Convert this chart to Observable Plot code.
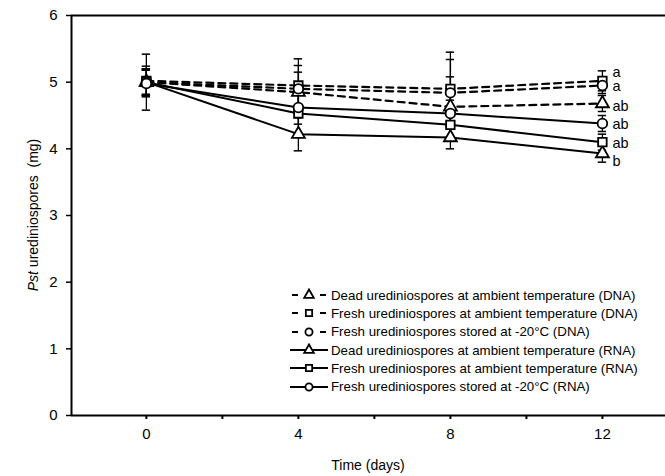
<!DOCTYPE html>
<html><head><meta charset="utf-8">
<script src="https://cdn.jsdelivr.net/npm/d3@7"></script>
<script src="https://cdn.jsdelivr.net/npm/@observablehq/plot@0.6"></script>
<style>
body{margin:0;background:#fff;font-family:"Liberation Sans",Arial,sans-serif;}
#wrap{position:relative;width:665px;height:476px;}
#legend{position:absolute;left:290px;top:286px;font-size:13.3px;color:#000;}
.row{display:flex;align-items:center;height:18.3px;white-space:nowrap;}
.row svg{margin-right:1px;}
</style></head><body><div id="wrap"><div id="legend"></div></div>
<script>
// ---- data ----
const days = [0, 4, 8, 12];
const seriesNames = [
  "Dead urediniospores at ambient temperature (DNA)",
  "Fresh urediniospores at ambient temperature (DNA)",
  "Fresh urediniospores stored at -20°C (DNA)",
  "Dead urediniospores at ambient temperature (RNA)",
  "Fresh urediniospores at ambient temperature (RNA)",
  "Fresh urediniospores stored at -20°C (RNA)"
];
const seriesKind = ["DNA", "DNA", "DNA", "RNA", "RNA", "RNA"];
const seriesSymbol = ["triangle", "square", "circle", "triangle", "square", "circle"];
const deadDNA      = [5.00, 4.85, 4.63, 4.68];
const freshAmbDNA  = [5.02, 4.95, 4.90, 5.02];
const frozenDNA    = [5.00, 4.90, 4.84, 4.95];
const deadRNA      = [5.00, 4.22, 4.17, 3.93];
const freshAmbRNA  = [5.00, 4.53, 4.36, 4.10];
const frozenRNA    = [4.98, 4.62, 4.53, 4.38];
const errDeadDNA     = [0.20, 0.30, 0.45, 0.12];
const errFreshAmbDNA = [0.22, 0.40, 0.55, 0.15];
const errFrozenDNA   = [0.18, 0.35, 0.50, 0.12];
const errDeadRNA     = [0.42, 0.25, 0.17, 0.13];
const errFreshAmbRNA = [0.20, 0.30, 0.20, 0.12];
const errFrozenRNA   = [0.20, 0.25, 0.20, 0.12];
const letters   = ["a", "a", "ab", "ab", "ab", "b"];
const letterY   = [5.15, 4.93, 4.63, 4.37, 4.08, 3.81];
const xTicks = [0, 2, 4, 6, 8, 10, 12];
const xTickLabels = ["0", "", "4", "", "8", "", "12"];
const yTicks = [0, 1, 2, 3, 4, 5, 6];
const xDomain = [-1.97, 13.66];
const yDomain = [0, 6];

const allMeans = [deadDNA, freshAmbDNA, frozenDNA, deadRNA, freshAmbRNA, frozenRNA];
const allErrs = [errDeadDNA, errFreshAmbDNA, errFrozenDNA, errDeadRNA, errFreshAmbRNA, errFrozenRNA];
const rows = [];
allMeans.forEach((arr, s) => arr.forEach((v, i) => rows.push({
  s, name: seriesNames[s], kind: seriesKind[s], symbol: seriesSymbol[s],
  t: days[i], y: v, lo: v - allErrs[s][i], hi: v + allErrs[s][i]
})));
const letterRows = letters.map((l, i) => ({l, y: letterY[i], t: days[days.length - 1]}));

const font = '"Liberation Sans", Arial, sans-serif';
const chart = Plot.plot({
  width: 665, height: 476,
  marginLeft: 71, marginRight: 0, marginTop: 15, marginBottom: 61,
  style: {fontFamily: font, color: "#000", background: "#fff"},
  x: {domain: xDomain, label: null},
  y: {domain: yDomain, label: null},
  symbol: {domain: ["triangle", "square", "circle"], range: ["triangle", "square", "circle"]},
  marks: [
    Plot.axisX({ticks: xTicks, tickSize: 4, tickPadding: 9, fontSize: 15, strokeWidth: 2,
      tickFormat: (d) => xTickLabels[xTicks.indexOf(d)] ?? "", label: null}),
    Plot.axisY({ticks: yTicks, tickSize: 5, tickPadding: 9, fontSize: 15, strokeWidth: 1.5,
      tickFormat: d3.format("d"), label: null}),
    Plot.ruleY([yDomain[0]], {stroke: "#000", strokeWidth: 2}),
    Plot.ruleY([yDomain[1]], {stroke: "#000", strokeWidth: 2}),
    Plot.ruleX([xDomain[0]], {stroke: "#000", strokeWidth: 2}),
    Plot.ruleX(rows, {x: "t", y1: "lo", y2: "hi", stroke: "#000", strokeWidth: 1.3}),
    Plot.ruleY(rows, {y: "lo", x1: d => d.t - 0.11, x2: d => d.t + 0.11, stroke: "#000", strokeWidth: 1.5}),
    Plot.ruleY(rows, {y: "hi", x1: d => d.t - 0.11, x2: d => d.t + 0.11, stroke: "#000", strokeWidth: 1.5}),
    Plot.line(rows.filter(d => d.kind === "DNA"), {x: "t", y: "y", z: "s", stroke: "#000", strokeWidth: 2.2, strokeDasharray: "7,5"}),
    Plot.line(rows.filter(d => d.kind === "RNA"), {x: "t", y: "y", z: "s", stroke: "#000", strokeWidth: 2}),
    Plot.dot(rows, {x: "t", y: "y", symbol: "symbol", r: 4.8, fill: "#fff", stroke: "#000", strokeWidth: 1.8}),
    Plot.text(letterRows, {x: "t", y: "y", text: "l", dx: 10, textAnchor: "start", fontSize: 14.5, fill: "#000"})
  ]
});
document.getElementById("wrap").prepend(chart);
const svg = d3.select(chart);
svg.style("position", "absolute").style("left", "0").style("top", "0");
// axis titles
const yt = svg.append("text").attr("transform", "translate(38,215) rotate(-90)")
  .attr("text-anchor", "middle").attr("font-family", font).attr("font-size", 14).attr("fill", "#000");
yt.append("tspan").attr("font-style", "italic").text("Pst");
yt.append("tspan").text(" urediniospores  (mg)");
svg.append("text").attr("x", 368).attr("y", 470).attr("text-anchor", "middle")
  .attr("font-family", font).attr("font-size", 14).attr("fill", "#000").text("Time (days)");

// legend
const leg = d3.select("#legend");
seriesNames.forEach((n, s) => {
  const row = leg.append("div").attr("class", "row");
  const sv = row.append("svg").attr("width", 40).attr("height", 14);
  if (seriesKind[s] === "DNA") {
    sv.append("line").attr("x1", 2).attr("x2", 8).attr("y1", 7).attr("y2", 7).attr("stroke", "#000").attr("stroke-width", 2);
    sv.append("line").attr("x1", 30).attr("x2", 36).attr("y1", 7).attr("y2", 7).attr("stroke", "#000").attr("stroke-width", 2);
  } else {
    sv.append("line").attr("x1", 0).attr("x2", 38).attr("y1", 7).attr("y2", 7).attr("stroke", "#000").attr("stroke-width", 2);
  }
  const sym = {triangle: d3.symbolTriangle, square: d3.symbolSquare, circle: d3.symbolCircle}[seriesSymbol[s]];
  sv.append("path").attr("d", d3.symbol(sym, 40)()).attr("transform", "translate(19,7)")
    .attr("fill", "#fff").attr("stroke", "#000").attr("stroke-width", 1.8);
  row.append("span").text(n);
});
</script></body></html>
